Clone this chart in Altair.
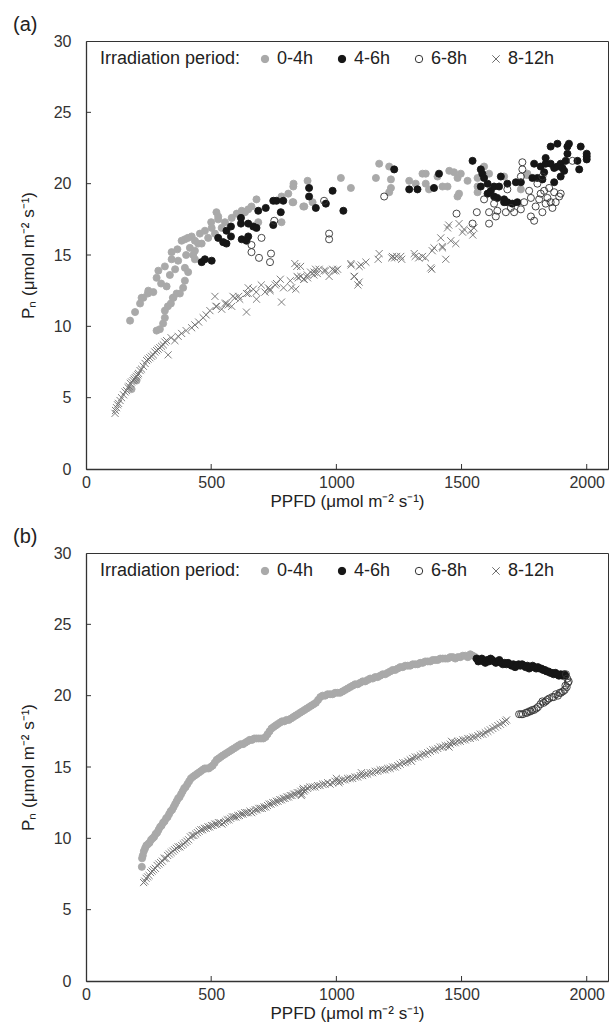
import altair as alt
import pandas as pd

FONT = "Liberation Sans"
PERIODS = ["0-4h", "4-6h", "6-8h", "8-12h"]
X_TICKS = [0, 500, 1000, 1500, 2000]
Y_TICKS = [0, 5, 10, 15, 20, 25, 30]
X_TITLE = "PPFD (μmol m⁻² s⁻¹)"
Y_TITLE = "Pₙ (μmol m⁻² s⁻¹)"

# ---------------- panel (a) ----------------
A_04 = [(176, 10.4), (196, 11.0), (216, 11.6), (229, 12.0), (247, 12.3), (182, 5.6), (202, 6.2),
        (282, 9.7), (295, 9.8), (308, 10.2), (315, 10.6), (315, 11.1), (327, 11.4), (339, 11.6),
        (347, 12.0), (362, 12.3), (222, 12.0), (249, 12.5), (269, 12.4), (282, 13.4), (289, 13.9),
        (315, 14.2), (342, 14.7), (368, 14.6), (395, 14.1), (408, 13.8), (395, 13.2), (388, 12.7),
        (375, 12.3), (349, 12.0), (342, 15.2), (382, 16.0), (395, 16.1), (407, 16.2), (422, 16.3),
        (435, 16.0), (415, 15.5), (435, 15.3), (448, 15.8), (455, 16.5), (475, 16.7), (488, 16.2),
        (502, 16.9), (521, 18.0), (528, 17.5), (542, 16.9), (555, 17.3), (582, 17.6), (602, 17.9),
        (622, 18.1), (635, 18.0), (648, 18.2), (661, 18.4), (681, 18.9), (688, 17.3), (781, 19.1),
        (808, 19.3), (828, 19.8), (828, 18.7), (781, 17.3), (868, 18.4), (435, 14.7), (462, 15.8),
        (528, 17.7), (829, 20.0), (825, 18.7), (872, 18.4), (885, 20.2), (905, 18.7), (1018, 20.4),
        (1058, 19.7), (1158, 20.4), (1171, 21.4), (1211, 21.2), (1218, 20.3), (1218, 19.7),
        (1211, 19.4), (1291, 20.2), (1317, 20.0), (1344, 20.7), (1357, 20.7), (1357, 20.0),
        (1370, 19.6), (1404, 20.5), (1424, 19.8), (1444, 19.8), (1451, 20.9), (1470, 20.8),
        (1484, 20.4), (1497, 20.7), (1484, 19.1), (1490, 19.3), (1524, 20.2), (1564, 20.4),
        (1590, 21.2), (1564, 19.8), (1564, 19.4), (1610, 20.7), (1670, 20.5), (1763, 20.7),
        (1737, 19.6), (1761, 20.6), (300, 13.0), (322, 12.8), (335, 13.6), (356, 14.0), (365, 15.4),
        (400, 15.0), (428, 15.0), (500, 17.3), (515, 16.5)]
A_46 = [(462, 14.5), (475, 14.7), (502, 14.6), (528, 16.2), (548, 15.9), (561, 15.8), (561, 16.7),
        (579, 16.3), (579, 17.0), (619, 17.6), (619, 17.2), (622, 16.1), (641, 16.0), (648, 16.3),
        (648, 17.2), (668, 17.0), (681, 16.9), (688, 18.1), (718, 18.3), (748, 18.8), (761, 18.8),
        (788, 18.8), (778, 18.0), (748, 17.1), (891, 19.7), (891, 19.1), (918, 18.3), (958, 18.6),
        (985, 19.5), (1028, 18.1), (1231, 21.0), (1291, 19.6), (1324, 19.6), (1390, 19.7),
        (1410, 20.7), (1544, 21.6), (1577, 21.0), (1583, 20.7), (1590, 20.4), (1577, 19.8),
        (1604, 20.0), (1617, 19.5), (1630, 19.8), (1650, 19.8), (1657, 20.5), (1604, 19.3),
        (1630, 19.1), (1643, 19.0), (1670, 18.9), (1670, 18.7), (1683, 18.7), (1703, 18.6),
        (1723, 18.7), (1683, 20.0), (1717, 20.1), (1737, 20.1), (1783, 20.4), (1803, 20.4),
        (1823, 20.3), (1870, 20.1), (1790, 21.4), (1816, 21.2), (1836, 21.4), (1836, 21.8),
        (1856, 21.4), (1870, 21.1), (1883, 21.2), (1896, 21.4), (1903, 21.1), (1910, 20.9),
        (1916, 21.6), (1923, 22.1), (1856, 22.6), (1883, 22.8), (1923, 22.6), (1929, 22.8),
        (1976, 22.6), (1963, 21.6), (1970, 21.0), (2000, 22.1), (2000, 21.7), (2000, 21.9),
        (1896, 20.5), (1830, 20.8)]
A_68 = [(701, 16.2), (661, 15.7), (661, 15.2), (691, 14.8), (735, 14.5), (739, 15.1), (752, 17.4),
        (951, 18.8), (971, 16.5), (971, 16.1), (1191, 19.1), (1480, 17.9), (1544, 17.2), (1561, 18.0),
        (1590, 18.9), (1610, 17.2), (1610, 18.0), (1630, 18.6), (1637, 17.7), (1643, 18.1),
        (1677, 18.0), (1683, 19.6), (1697, 18.3), (1710, 18.0), (1737, 18.2), (1743, 21.5),
        (1743, 21.0), (1737, 20.5), (1750, 18.7), (1770, 19.5), (1777, 19.0), (1790, 17.4),
        (1796, 18.4), (1803, 20.0), (1810, 18.9), (1816, 19.3), (1823, 18.0), (1830, 19.5),
        (1836, 18.6), (1843, 19.0), (1850, 19.7), (1856, 18.7), (1863, 18.3), (1870, 19.4),
        (1876, 18.7), (1890, 19.1), (1896, 19.3), (1777, 17.7), (1823, 20.5), (1943, 21.6)]
A_812 = [(116, 3.9), (118, 4.1), (122, 4.3), (126, 4.5), (130, 4.6), (136, 4.8), (142, 5.0),
         (150, 5.2), (156, 5.4), (162, 5.5), (168, 5.7), (172, 5.8), (177, 6.0), (182, 6.1),
         (188, 6.2), (192, 6.3), (197, 6.4), (202, 6.5), (207, 6.6), (210, 6.7), (216, 6.9),
         (222, 7.0), (229, 7.2), (236, 7.4), (242, 7.6), (248, 7.7), (255, 7.8), (262, 7.9),
         (269, 8.0), (275, 8.2), (282, 8.3), (288, 8.4), (295, 8.5), (302, 8.6), (309, 8.7),
         (315, 8.9), (322, 9.0), (328, 8.0), (340, 9.2), (355, 9.0), (368, 9.3), (382, 9.5),
         (400, 9.7), (422, 9.9), (435, 10.1), (450, 10.3), (468, 10.6), (480, 10.8), (495, 11.1),
         (515, 12.1), (522, 11.4), (542, 11.2), (555, 11.6), (568, 11.5), (582, 11.4), (595, 12.0),
         (610, 12.1), (641, 11.0), (648, 12.3), (648, 12.7), (680, 12.4), (700, 12.9), (728, 12.7),
         (735, 12.5), (761, 13.0), (781, 11.7), (816, 13.2), (821, 12.7), (834, 14.4), (838, 12.6),
         (842, 14.2), (848, 13.4), (858, 13.5), (871, 13.3), (885, 13.4), (910, 13.6), (911, 13.8),
         (924, 13.7), (931, 14.0), (958, 13.9), (971, 13.5), (985, 14.0), (990, 13.9), (998, 13.9),
         (1058, 14.4), (1071, 13.5), (1086, 12.9), (1091, 13.1), (1091, 14.2), (1118, 14.5),
         (1171, 15.1), (1224, 14.9), (1233, 14.8), (1257, 14.9), (1311, 15.1), (1329, 14.8),
         (1344, 14.9), (1377, 14.1), (1381, 14.0), (1390, 15.5), (1417, 16.2), (1423, 15.6),
         (1424, 15.5), (1437, 14.7), (1444, 16.9), (1449, 17.1), (1457, 16.0), (1477, 15.8),
         (1490, 17.2), (1504, 16.6), (1510, 16.8), (1537, 16.7), (1545, 16.4), (1550, 16.9),
         (735, 12.6), (756, 12.9), (776, 13.3), (789, 12.7), (843, 13.5), (857, 14.2), (870, 13.3),
         (884, 13.6), (897, 13.8), (917, 14.0), (951, 13.9), (1005, 14.0), (1059, 14.3),
         (1072, 13.5), (1099, 14.3), (1167, 14.7), (1221, 14.8), (1241, 14.9), (1261, 14.7),
         (1315, 14.9), (1356, 14.8), (1383, 15.3), (641, 12.3), (668, 12.6), (681, 11.9),
         (715, 12.4), (519, 11.4), (560, 11.6), (587, 12.1), (614, 11.9)]

# ---------------- panel (b) ----------------
B_04 = [(223, 8.0), (224, 8.6), (227, 8.8), (231, 9.1), (236, 9.3), (241, 9.5), (248, 9.6),
        (254, 9.7), (260, 9.9), (266, 10.0), (272, 10.1), (278, 10.3), (284, 10.4), (290, 10.6),
        (296, 10.8), (302, 10.9), (308, 11.1), (314, 11.2), (320, 11.4), (326, 11.5), (332, 11.7),
        (338, 11.9), (344, 12.0), (350, 12.2), (356, 12.4), (362, 12.6), (368, 12.8), (374, 12.9),
        (380, 13.1), (386, 13.3), (392, 13.5), (398, 13.6), (405, 13.8), (412, 14.0), (419, 14.2),
        (426, 14.3), (434, 14.4), (442, 14.5), (450, 14.6), (458, 14.7), (466, 14.8), (474, 14.9),
        (482, 14.9), (490, 14.9), (498, 15.0), (506, 15.1), (514, 15.3), (522, 15.5), (530, 15.6),
        (538, 15.7), (546, 15.8), (555, 15.9), (564, 16.0), (573, 16.1), (582, 16.2), (591, 16.3),
        (600, 16.4), (609, 16.5), (618, 16.6), (627, 16.6), (636, 16.7), (645, 16.8), (654, 16.9),
        (663, 16.9), (672, 17.0), (681, 17.0), (690, 17.0), (699, 17.0), (708, 17.0), (717, 17.1),
        (725, 17.3), (733, 17.5), (741, 17.7), (749, 17.8), (757, 17.9), (765, 18.0), (774, 18.1),
        (783, 18.2), (792, 18.2), (801, 18.3), (810, 18.3), (819, 18.4), (828, 18.5), (837, 18.6),
        (846, 18.7), (855, 18.8), (864, 18.9), (873, 19.0), (882, 19.1), (891, 19.2), (900, 19.3),
        (909, 19.4), (918, 19.5), (927, 19.7), (936, 19.9), (945, 20.0), (955, 20.0), (965, 20.1),
        (975, 20.1), (985, 20.1), (995, 20.2), (1005, 20.2), (1015, 20.2), (1025, 20.3),
        (1035, 20.4), (1045, 20.5), (1055, 20.6), (1065, 20.7), (1075, 20.8), (1085, 20.8),
        (1095, 20.9), (1105, 21.0), (1115, 21.0), (1125, 21.1), (1135, 21.2), (1145, 21.2),
        (1155, 21.3), (1165, 21.3), (1175, 21.4), (1185, 21.5), (1195, 21.5), (1205, 21.6),
        (1215, 21.7), (1225, 21.8), (1235, 21.8), (1245, 21.9), (1255, 22.0), (1265, 22.0),
        (1275, 22.1), (1285, 22.1), (1295, 22.1), (1305, 22.2), (1315, 22.2), (1325, 22.2),
        (1335, 22.3), (1345, 22.3), (1355, 22.4), (1365, 22.4), (1375, 22.4), (1385, 22.5),
        (1395, 22.5), (1405, 22.5), (1415, 22.6), (1425, 22.6), (1435, 22.6), (1445, 22.6),
        (1455, 22.7), (1465, 22.7), (1475, 22.6), (1485, 22.7), (1495, 22.7), (1505, 22.8),
        (1515, 22.8), (1525, 22.7), (1535, 22.9), (1545, 22.8), (1555, 22.7)]
B_46 = [(1560, 22.6), (1567, 22.4), (1574, 22.5), (1581, 22.6), (1588, 22.4), (1595, 22.3),
        (1602, 22.5), (1609, 22.4), (1616, 22.6), (1623, 22.5), (1630, 22.4), (1637, 22.3),
        (1644, 22.4), (1651, 22.5), (1658, 22.3), (1665, 22.2), (1672, 22.3), (1679, 22.2),
        (1686, 22.3), (1693, 22.2), (1700, 22.1), (1707, 22.2), (1714, 22.0), (1721, 22.1),
        (1728, 22.2), (1735, 22.1), (1742, 22.2), (1749, 22.1), (1756, 22.0), (1763, 22.1),
        (1770, 21.9), (1777, 22.0), (1784, 22.1), (1791, 22.0), (1798, 21.9), (1805, 22.0),
        (1812, 21.9), (1819, 21.9), (1826, 21.8), (1833, 21.8), (1840, 21.7), (1847, 21.7),
        (1854, 21.6), (1861, 21.6), (1868, 21.5), (1875, 21.6), (1882, 21.5), (1889, 21.4),
        (1896, 21.5), (1903, 21.4), (1910, 21.5), (1915, 21.4)]
B_68 = [(1917, 21.5), (1928, 21.0), (1922, 21.2), (1925, 20.9), (1920, 20.6), (1915, 20.7),
        (1912, 20.4), (1905, 20.3), (1897, 20.2), (1892, 20.2), (1885, 20.0), (1877, 20.1),
        (1868, 19.9), (1862, 19.9), (1850, 19.8), (1842, 19.7), (1836, 19.6), (1828, 19.5),
        (1823, 19.6), (1815, 19.4), (1805, 19.2), (1798, 19.1), (1790, 19.0), (1783, 19.0),
        (1776, 18.9), (1770, 18.9), (1762, 18.8), (1757, 18.8), (1745, 18.7), (1738, 18.7),
        (1730, 18.7)]
B_812 = [(230, 6.9), (235, 7.0), (240, 7.2), (246, 7.3), (252, 7.4), (258, 7.6), (264, 7.7),
         (270, 7.8), (277, 7.9), (284, 8.1), (291, 8.2), (298, 8.3), (305, 8.4), (312, 8.6),
         (319, 8.6), (326, 8.8), (333, 8.9), (340, 9.0), (347, 9.1), (354, 9.2), (361, 9.3),
         (368, 9.4), (375, 9.4), (382, 9.5), (389, 9.6), (396, 9.7), (403, 9.8), (410, 9.9),
         (417, 10.1), (424, 10.2), (431, 10.2), (438, 10.3), (445, 10.4), (452, 10.5), (459, 10.6),
         (466, 10.6), (473, 10.7), (480, 10.7), (487, 10.8), (494, 10.8), (501, 10.9), (508, 10.9),
         (515, 11.0), (522, 11.0), (529, 11.1), (536, 11.1), (543, 11.0), (550, 11.1), (557, 11.2),
         (564, 11.3), (571, 11.3), (578, 11.4), (585, 11.5), (592, 11.5), (599, 11.5), (606, 11.6),
         (613, 11.6), (620, 11.7), (627, 11.7), (634, 11.8), (641, 11.8), (648, 11.8), (655, 11.9),
         (662, 11.8), (669, 11.9), (676, 12.0), (683, 12.0), (690, 12.1), (697, 12.1), (704, 12.1),
         (711, 12.2), (718, 12.2), (725, 12.3), (732, 12.4), (739, 12.4), (746, 12.5), (753, 12.5),
         (760, 12.6), (767, 12.6), (774, 12.7), (781, 12.7), (788, 12.8), (795, 12.8), (802, 12.9),
         (809, 12.9), (816, 13.0), (823, 13.0), (830, 13.1), (837, 13.1), (844, 13.2), (851, 13.2),
         (858, 13.3), (860, 13.0), (862, 13.1), (866, 13.4), (868, 13.5), (870, 13.3), (876, 13.4),
         (885, 13.5), (895, 13.6), (905, 13.6), (915, 13.6), (925, 13.7), (935, 13.7), (945, 13.8),
         (955, 13.8), (965, 13.9), (975, 13.8), (985, 13.9), (995, 14.0), (1000, 14.2),
         (1005, 14.0), (1010, 13.9), (1015, 14.0), (1025, 14.1), (1035, 14.1), (1045, 14.2),
         (1055, 14.2), (1065, 14.2), (1075, 14.3), (1085, 14.3), (1095, 14.4), (1100, 14.6),
         (1105, 14.4), (1115, 14.5), (1125, 14.5), (1135, 14.6), (1145, 14.6), (1155, 14.7),
         (1165, 14.7), (1175, 14.8), (1185, 14.8), (1195, 14.8), (1205, 14.9), (1215, 14.9),
         (1225, 15.0), (1235, 15.0), (1245, 15.1), (1255, 15.2), (1265, 15.3), (1275, 15.3),
         (1285, 15.4), (1295, 15.5), (1300, 15.4), (1305, 15.6), (1315, 15.7), (1325, 15.7),
         (1335, 15.8), (1345, 15.9), (1355, 15.9), (1365, 16.0), (1375, 16.1), (1385, 16.2),
         (1395, 16.2), (1405, 16.3), (1415, 16.4), (1425, 16.4), (1435, 16.5), (1445, 16.5),
         (1450, 16.4), (1455, 16.6), (1460, 16.8), (1465, 16.7), (1475, 16.7), (1485, 16.8),
         (1495, 16.8), (1505, 16.9), (1515, 16.9), (1525, 17.0), (1535, 17.0), (1545, 17.1),
         (1555, 17.1), (1565, 17.2), (1575, 17.3), (1585, 17.3), (1595, 17.4), (1605, 17.5),
         (1615, 17.6), (1625, 17.7), (1635, 17.8), (1645, 17.9), (1655, 18.0), (1665, 18.1),
         (1675, 18.2), (1680, 18.3)]

W, H = 522, 428
CROSS = "M-1,-1L1,1M-1,1L1,-1"


def panel_df(groups):
    rows = []
    for period, pts in groups:
        for x, y in pts:
            rows.append({"ppfd": x, "pn": y, "period": period})
    return pd.DataFrame(rows)


def legend():
    return alt.Legend(
        title="Irradiation period:", orient="none", legendX=14, legendY=9,
        direction="horizontal", titleOrient="left", titleFontSize=18,
        titleFontWeight="normal", titleColor="#222", titleFont=FONT,
        titlePadding=15, labelFontSize=18, labelColor="#222", labelFont=FONT,
        labelOffset=3, columnPadding=19, symbolSize=55, symbolStrokeWidth=1,
    )


def make_panel(df, label):
    xs = alt.Scale(domain=[0, 2085], nice=False, zero=False)
    ys = alt.Scale(domain=[0, 30], nice=False)
    pts = alt.Chart(df).mark_point(opacity=1, size=50, strokeWidth=0.9).encode(
        x=alt.X("ppfd:Q", scale=xs, title=X_TITLE,
                axis=alt.Axis(values=X_TICKS, format="d", ticks=False, grid=False, labelPadding=5,
                              titlePadding=3, labelFlush=False)),
        y=alt.Y("pn:Q", scale=ys, title=Y_TITLE,
                axis=alt.Axis(values=Y_TICKS, format="d", ticks=False, grid=False, labelPadding=15,
                              titlePadding=16, labelFlush=False)),
        shape=alt.Shape("period:N", scale=alt.Scale(domain=PERIODS, range=["circle", "circle", "circle", CROSS]), legend=legend()),
        fill=alt.Fill("period:N", scale=alt.Scale(domain=PERIODS, range=["#a9a9a9", "#161616", "transparent", "transparent"]), legend=legend()),
        stroke=alt.Stroke("period:N", scale=alt.Scale(domain=PERIODS, range=["#a9a9a9", "#161616", "#333333", "#6e6e6e"]), legend=legend()),
    )
    xt = alt.Chart(pd.DataFrame({"ppfd": X_TICKS[1:]})).mark_rule(color="#333", strokeWidth=1).encode(
        x=alt.X("ppfd:Q", scale=xs, title=X_TITLE), y=alt.value(H), y2=alt.value(H - 5))
    yt = alt.Chart(pd.DataFrame({"pn": Y_TICKS[1:-1]})).mark_rule(color="#333", strokeWidth=1).encode(
        y=alt.Y("pn:Q", scale=ys, title=Y_TITLE), x=alt.value(0), x2=alt.value(5))
    lab = alt.Chart(pd.DataFrame({"t": [label]})).mark_text(
        align="left", baseline="middle", fontSize=20, font=FONT, color="#222").encode(
        text="t:N", x=alt.value(-73), y=alt.value(-16))
    return alt.layer(pts, xt, yt, lab).properties(width=W, height=H)


dfa = panel_df([("0-4h", A_04), ("4-6h", A_46), ("6-8h", A_68), ("8-12h", A_812)])
dfb = panel_df([("0-4h", B_04), ("4-6h", B_46), ("6-8h", B_68), ("8-12h", B_812)])

chart = alt.vconcat(make_panel(dfa, "(a)"), make_panel(dfb, "(b)"), spacing=16).resolve_scale(
    shape="independent", fill="independent", stroke="independent"
).resolve_legend(
    shape="independent", fill="independent", stroke="independent"
).properties(
    padding={"left": 12, "top": 14, "right": 0, "bottom": 0}
).configure_view(stroke="#333", strokeWidth=1).configure_axis(
    domainColor="#333", domainWidth=1.3, labelFont=FONT, labelFontSize=16, labelColor="#333",
    titleFont=FONT, titleFontSize=17, titleFontWeight="normal", titleColor="#222"
)

chart.save("out.html", embed_options={"renderer": "svg", "actions": False})
